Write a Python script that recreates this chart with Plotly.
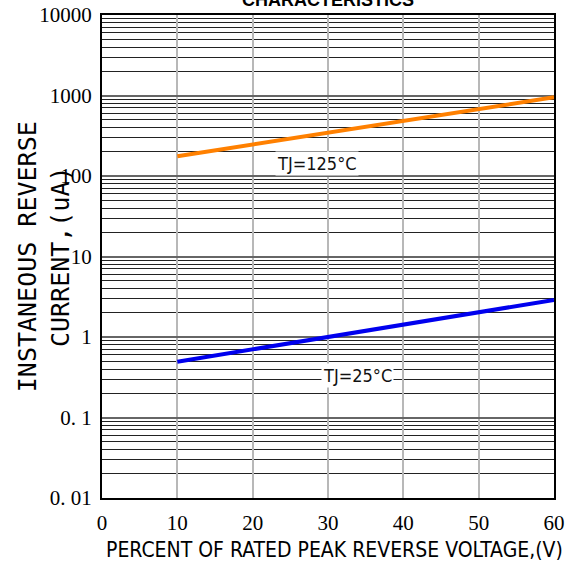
import math
import plotly.graph_objects as go

# ---- data ----
x_pct = [10, 60]
i_125 = [176, 950]      # uA, TJ=125°C
i_25 = [0.493, 2.89]    # uA, TJ=25°C

x_ticks = [0, 10, 20, 30, 40, 50, 60]
y_tick_vals = [0.01, 0.1, 1, 10, 100, 1000, 10000]
y_tick_text = ["0. 01", "0. 1", "1", "10", "100", "1000", "10000"]

label_125 = ("TJ=125°C", 28.6, 145)
label_25 = ("TJ=25°C", 33.9, 0.336)

minor_vals = [m * 10 ** e for e in range(-2, 4) for m in range(2, 10)]

COND = "DejaVu Sans Condensed, Liberation Sans Narrow, Roboto Condensed, sans-serif"

fig = go.Figure()
fig.add_trace(go.Scatter(x=x_pct, y=i_125, mode="lines",
                         line=dict(color="#ff8000", width=4), showlegend=False))
fig.add_trace(go.Scatter(x=x_pct, y=i_25, mode="lines",
                         line=dict(color="#0000ee", width=4), showlegend=False))

for txt, xx, yy in (label_125, label_25):
    fig.add_annotation(x=xx, y=math.log10(yy), text=txt, showarrow=False,
                       font=dict(family=COND, size=18, color="#111"),
                       bgcolor="white", xanchor="center", yanchor="middle")

fig.add_annotation(xref="paper", yref="paper", x=0.5, y=1, yshift=3,
                   text="<b>CHARACTERISTICS</b>", showarrow=False,
                   xanchor="center", yanchor="bottom",
                   font=dict(family="Liberation Sans, Arial, sans-serif", size=18, color="#000"))

fig.add_annotation(xref="paper", yref="paper", x=-0.129, y=0.5,
                   text="INSTANEOUS REVERSE<br>CURRENT,(uA)", showarrow=False,
                   textangle=-90, xanchor="center", yanchor="middle",
                   font=dict(family="DejaVu Sans Mono, monospace", size=25, color="#000"))

fig.add_annotation(xref="paper", yref="paper", x=0.514, y=0, yshift=-52,
                   text="PERCENT OF RATED PEAK REVERSE VOLTAGE,(V)", showarrow=False,
                   xanchor="center", yanchor="middle",
                   font=dict(family=COND, size=21, color="#000"))

fig.update_layout(
    width=571, height=561,
    margin=dict(l=102, r=17, t=15, b=63),
    paper_bgcolor="white", plot_bgcolor="white",
    xaxis=dict(range=[0, 60], tickmode="array", tickvals=x_ticks,
               showgrid=True, gridcolor="#b8b8b8", gridwidth=1.5,
               showline=True, mirror=True, linecolor="#000", linewidth=2,
               ticks="", ticklabelstandoff=5, automargin=False,
               tickfont=dict(family="Liberation Serif, Times New Roman, serif", size=21, color="#000"),
               zeroline=False),
    yaxis=dict(type="log", range=[-2, 4], tickmode="array",
               tickvals=y_tick_vals, ticktext=y_tick_text,
               showgrid=True, gridcolor="#666", gridwidth=1.5,
               minor=dict(tickmode="array", tickvals=minor_vals, showgrid=True,
                          gridcolor="#222", gridwidth=1, ticks=""),
               showline=True, mirror=True, linecolor="#000", linewidth=2,
               ticks="", ticklabelstandoff=4, automargin=False,
               tickfont=dict(family="Liberation Serif, Times New Roman, serif", size=21, color="#000"),
               zeroline=False),
)

fig.write_html("out.html", config={"displayModeBar": False},
               post_script="document.body.style.margin='0';")
